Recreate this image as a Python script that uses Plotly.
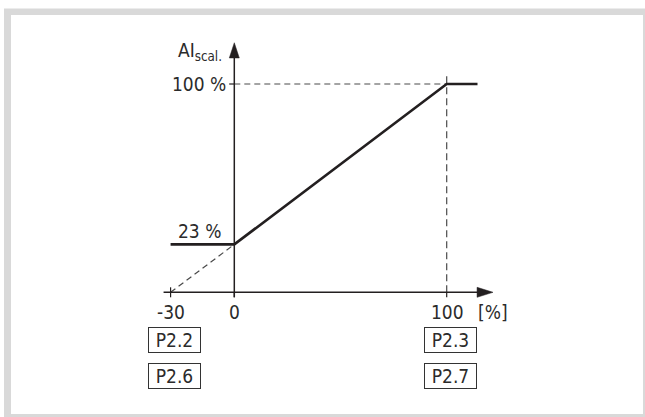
import plotly.graph_objects as go

# ---- data ----
curve_x = [-30, 0, 100, 114.5]
curve_y = [23, 23, 100, 100]
min_pct = 23
max_pct = 100
x_ticks = [-30, 0, 100]
x_tick_labels = ["-30", "0", "100"]
y_labels = ["23 %", "100 %"]
y_label_vals = [23, 100]
box_left = ["P2.2", "P2.6"]
box_right = ["P2.3", "P2.7"]

W, H = 645, 417
# pixel mapping of the drawing (data units -> pixels)
x0px, xscale = 234.3, 2.124
y0px, yscale = 292.3, 2.083
xr = [(0 - x0px) / xscale, (W - x0px) / xscale]
yr = [(y0px - H) / yscale, (y0px - 0) / yscale]

INK = "#231f20"
TXT = "#2b2b2b"
DASH_C = "#4a4a4a"
FONT = "DejaVu Sans Condensed, Liberation Sans Narrow, Arial Narrow, sans-serif"
FS = 19

fig = go.Figure()

# dashed helper lines
fig.add_trace(go.Scatter(x=[-30, 0], y=[0, min_pct], mode="lines",
                         line=dict(color=DASH_C, width=1.2, dash="6px,4px"), hoverinfo="skip"))
fig.add_trace(go.Scatter(x=[0, 100], y=[max_pct, max_pct], mode="lines",
                         line=dict(color=DASH_C, width=1.2, dash="6px,4px"), hoverinfo="skip"))
fig.add_trace(go.Scatter(x=[100, 100], y=[0, max_pct + 4.3], mode="lines",
                         line=dict(color=DASH_C, width=1.2, dash="7px,4px"), hoverinfo="skip"))

# main characteristic
fig.add_trace(go.Scatter(x=curve_x, y=curve_y, mode="lines",
                         line=dict(color=INK, width=2.6), hoverinfo="skip"))

shapes = []
# background frame
shapes.append(dict(type="rect", xref="paper", yref="paper", x0=4 / W, x1=1.02,
                   y0=-0.02, y1=1 - 8.5 / H, fillcolor="#d9d9d9", line=dict(width=0), layer="below"))
shapes.append(dict(type="rect", xref="paper", yref="paper", x0=11 / W, x1=643 / W,
                   y0=1 - 414 / H, y1=1 - 15 / H, fillcolor="white", line=dict(width=0), layer="below"))

# axes
ax_lw = 1.5
shapes.append(dict(type="line", x0=-33.3, x1=115, y0=0, y1=0, line=dict(color=INK, width=ax_lw)))
shapes.append(dict(type="line", x0=0, x1=0, y0=-2.4, y1=113, line=dict(color=INK, width=ax_lw)))
# arrow heads
hx = 5 / xscale
hy = 5 / yscale
shapes.append(dict(type="path",
                   path=f"M 114.3 {hy} L 121.8 0 L 114.3 {-hy} Z",
                   fillcolor=INK, line=dict(color=INK, width=0.5)))
shapes.append(dict(type="path",
                   path=f"M {-hx} 112.5 L 0 119.8 L {hx} 112.5 Z",
                   fillcolor=INK, line=dict(color=INK, width=0.5)))
# ticks
for t in x_ticks:
    shapes.append(dict(type="line", x0=t, x1=t, y0=-2.4, y1=(2.4 if t == -30 else 0),
                       line=dict(color=INK, width=1.2)))
shapes.append(dict(type="line", x0=-2.4, x1=0, y0=max_pct, y1=max_pct,
                   line=dict(color=INK, width=1.2)))

ann = []
# axis title
ann.append(dict(x=-5.0, y=115.6, text="AI<sub>scal.</sub>", showarrow=False,
                xanchor="right", yanchor="middle", font=dict(size=FS, color=TXT, family=FONT)))
for lab, v in zip(y_labels, y_label_vals):
    yy = v + 6.2 if v == min_pct else v
    xx = -5.3 if v == min_pct else -2.9
    ann.append(dict(x=xx, y=yy, text=lab, showarrow=False, xanchor="right", yanchor="middle",
                    font=dict(size=FS, color=TXT, family=FONT)))
for t, lab in zip(x_ticks, x_tick_labels):
    ann.append(dict(x=t + (0.3 if t == 100 else 0), y=-9.3, text=lab, showarrow=False,
                    xanchor="center", yanchor="middle", font=dict(size=FS, color=TXT, family=FONT)))
ann.append(dict(x=122, y=-9.3, text="[%]", showarrow=False, xanchor="center", yanchor="middle",
                font=dict(size=FS, color=TXT, family=FONT)))

box_y = [-22.7, -40.0]
for labs, xc in ((box_left, -28.1), (box_right, 101.6)):
    for lab, yc in zip(labs, box_y):
        ann.append(dict(x=xc, y=yc, text=lab, showarrow=False, xanchor="center", yanchor="middle",
                        width=49, height=22, borderpad=1, borderwidth=1, bordercolor="#333",
                        font=dict(size=FS, color=TXT, family=FONT)))

fig.update_layout(
    width=W, height=H, autosize=False,
    margin=dict(l=0, r=0, t=0, b=0, pad=0),
    paper_bgcolor="white", plot_bgcolor="rgba(0,0,0,0)",
    showlegend=False,
    xaxis=dict(range=xr, visible=False, fixedrange=True),
    yaxis=dict(range=yr, visible=False, fixedrange=True),
    shapes=shapes, annotations=ann,
)

fig.write_html("out.html", config={"displayModeBar": False},
               post_script="document.body.style.margin='0px';document.body.style.padding='0px';")
